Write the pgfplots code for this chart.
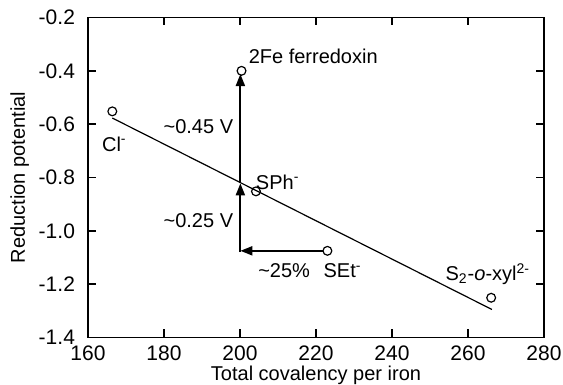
\documentclass[border=0pt]{standalone}
\usepackage{pgfplots}
\pgfplotsset{compat=1.18}
\usepackage{fontspec}
\setmainfont{Liberation Sans}
\usetikzlibrary{arrows.meta}
\begin{document}
\fontsize{10}{12}\selectfont
\begin{tikzpicture}
\begin{axis}[
  scale only axis,
  width=228pt, height=160pt,
  xmin=160, xmax=280, ymin=-1.4, ymax=-0.2,
  xtick={160,180,...,280},
  ytick={-1.4,-1.2,...,-0.2},
  /pgf/number format/assume math mode=true,
  yticklabel style={/pgf/number format/fixed,/pgf/number format/fixed zerofill,/pgf/number format/precision=1, xshift=-3pt},
  xticklabel style={/pgf/number format/fixed, inner sep=1pt, yshift=-3.2pt},
  tick align=inside,
  major tick length=4pt,
  every tick/.style={line width=0.8pt,black},
  axis line style={line width=0.9pt},
  xlabel={Total covalency per iron},
  ylabel={Reduction potential},
  xlabel style={inner sep=1pt, yshift=-0.4pt},
  ylabel style={yshift=-2pt},
  tick label style={font=\fontsize{10.5}{12}\selectfont},
  label style={font=\fontsize{10}{12}\selectfont},
  clip=false,
]
% regression line
\addplot[black, line width=0.6pt] coordinates {(166.4,-0.577) (266.3,-1.295)};
% arrows
\addplot[black, line width=1pt, -{Triangle[length=6pt,width=4.5pt]}] coordinates {(200.1,-1.075) (200.1,-0.822)};
\addplot[black, line width=1pt, -{Triangle[length=6pt,width=4.5pt]}] coordinates {(200.1,-0.822) (200.1,-0.412)};
\addplot[black, line width=1pt, -{Triangle[length=6pt,width=4.5pt]}] coordinates {(221.8,-1.075) (200.1,-1.075)};
\addplot[black, line width=1pt] coordinates {(200.1,-1.080) (200.1,-1.07)};
% data points
\addplot[only marks, mark=o, mark size=2.2pt, mark options={line width=0.6pt, fill=white}] coordinates {
 (166.4,-0.552) (200.4,-0.400) (204.2,-0.852) (223.0,-1.075) (266.1,-1.251)};
% labels
\node[anchor=west, inner sep=0pt] at (axis cs:202.2,-0.347) {2Fe ferredoxin};
\node[anchor=west, inner sep=0pt] at (axis cs:163.6,-0.674) {Cl\textsuperscript{-}};
\node[anchor=east, inner sep=0pt] at (axis cs:198.3,-0.609) {\textasciitilde 0.45 V};
\node[anchor=west, inner sep=0pt] at (axis cs:204.1,-0.817) {SPh\textsuperscript{-}};
\node[anchor=east, inner sep=0pt] at (axis cs:198.3,-0.961) {\textasciitilde 0.25 V};
\node[anchor=west, inner sep=0pt] at (axis cs:204.7,-1.150) {\textasciitilde 25\%};
\node[anchor=west, inner sep=0pt] at (axis cs:221.9,-1.150) {SEt\textsuperscript{-}};
\node[anchor=west, inner sep=0pt] at (axis cs:254.0,-1.163) {S\textsubscript{2}-\textit{o}-xyl\textsuperscript{2-}};
\end{axis}
\pgfresetboundingbox
\useasboundingbox (-44pt,-23.5pt) rectangle (237.5pt,168.75pt);
\end{tikzpicture}
\end{document}
